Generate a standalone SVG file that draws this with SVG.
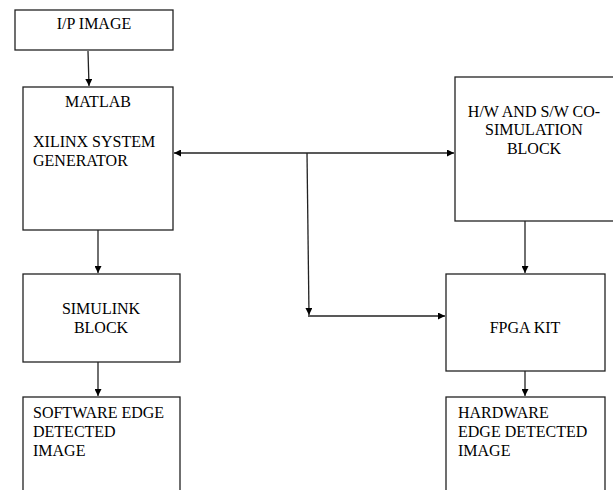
<svg xmlns="http://www.w3.org/2000/svg" width="613" height="490" viewBox="0 0 613 490">
<style>
.box{fill:#fff;stroke:#222;stroke-width:1.3}
.t{font-family:"Liberation Serif","Times New Roman",serif;font-size:16px;fill:#000}
.c{text-anchor:middle}
.ln{stroke:#222;stroke-width:1.3;fill:none}
</style>
<defs>
<marker id="ah" viewBox="0 0 10 10" refX="10" refY="5" markerWidth="7" markerHeight="7" markerUnits="userSpaceOnUse" orient="auto-start-reverse">
<path d="M0,0 L10,5 L0,10 z" fill="#000"/>
</marker>
</defs>
<rect width="613" height="490" fill="#fff"/>
<g id="connectors">
<line class="ln" x1="88" y1="51" x2="89" y2="86" marker-end="url(#ah)"/>
<line class="ln" x1="174" y1="153" x2="454" y2="153" marker-start="url(#ah)" marker-end="url(#ah)"/>
<line class="ln" x1="307" y1="153" x2="309" y2="315" marker-end="url(#ah)"/>
<line class="ln" x1="308" y1="316" x2="445" y2="316" marker-end="url(#ah)"/>
<line class="ln" x1="98" y1="230" x2="98" y2="273" marker-end="url(#ah)"/>
<line class="ln" x1="98" y1="362" x2="98" y2="396" marker-end="url(#ah)"/>
<line class="ln" x1="525" y1="221" x2="525" y2="273" marker-end="url(#ah)"/>
<line class="ln" x1="525" y1="371" x2="525" y2="396" marker-end="url(#ah)"/>
</g>
<g id="ip-image">
<rect class="box" x="15" y="10" width="158" height="40"/>
<text class="t c" x="94" y="29">I/P IMAGE</text>
</g>
<g id="matlab">
<rect class="box" x="23" y="87" width="150" height="143"/>
<text class="t c" x="98" y="107">MATLAB</text>
<text class="t" x="33" y="147">XILINX SYSTEM</text>
<text class="t" x="33" y="166">GENERATOR</text>
</g>
<g id="cosim">
<rect class="box" x="455" y="77" width="162" height="144"/>
<text class="t c" x="534" y="117">H/W AND S/W CO-</text>
<text class="t c" x="534" y="135">SIMULATION</text>
<text class="t c" x="534" y="154">BLOCK</text>
</g>
<g id="simulink">
<rect class="box" x="23" y="274" width="157" height="88"/>
<text class="t c" x="101" y="314">SIMULINK</text>
<text class="t c" x="101" y="333">BLOCK</text>
</g>
<g id="fpga">
<rect class="box" x="446" y="274" width="159" height="97"/>
<text class="t c" x="525" y="333">FPGA KIT</text>
</g>
<g id="sw-out">
<rect class="box" x="23" y="397" width="157" height="100"/>
<text class="t" x="33" y="418">SOFTWARE EDGE</text>
<text class="t" x="33" y="437">DETECTED</text>
<text class="t" x="33" y="456">IMAGE</text>
</g>
<g id="hw-out">
<rect class="box" x="446" y="397" width="159" height="100"/>
<text class="t" x="458" y="418">HARDWARE</text>
<text class="t" x="458" y="437">EDGE DETECTED</text>
<text class="t" x="458" y="456">IMAGE</text>
</g>
</svg>
